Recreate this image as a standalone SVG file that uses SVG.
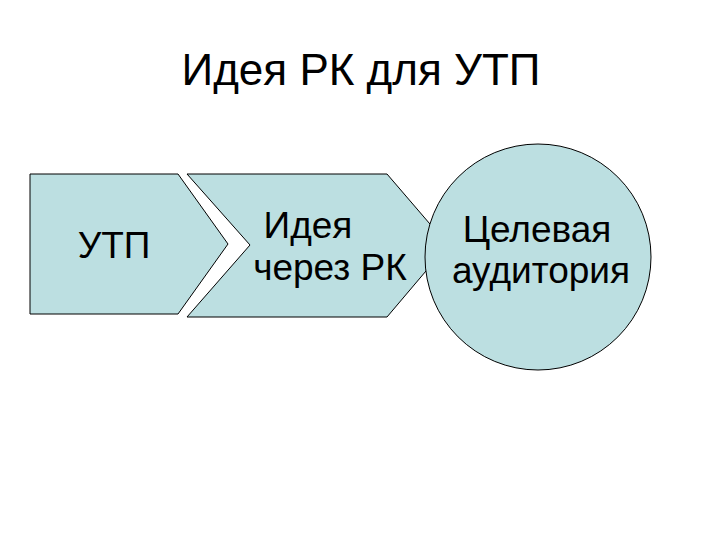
<svg xmlns="http://www.w3.org/2000/svg" width="720" height="540" viewBox="0 0 720 540">
<style>
.s{fill:#bcdfe1;stroke:#000;stroke-width:1}
text{font-family:"Liberation Sans",Arial,sans-serif;fill:#000}
</style>
<rect width="720" height="540" fill="#fff"/>
<text x="361" y="85" font-size="44" text-anchor="middle">Идея РК для УТП</text>
<g id="utp">
<polygon class="s" points="30,174 178,174 228,244 178,314 30,314"/>
<text x="114" y="258" font-size="37" text-anchor="middle">УТП</text>
</g>
<g id="idea">
<polygon class="s" points="187,174 387,174 448,245 387,317 187,317 250,245"/>
<text x="308" y="238" font-size="37" text-anchor="middle">Идея</text>
<text x="330" y="280" font-size="37" text-anchor="middle">через РК</text>
</g>
<g id="audience">
<circle class="s" cx="538" cy="257" r="113"/>
<text x="537" y="242" font-size="37" text-anchor="middle">Целевая</text>
<text x="541" y="283" font-size="37" text-anchor="middle">аудитория</text>
</g>
<g id="connectors"/>
</svg>
